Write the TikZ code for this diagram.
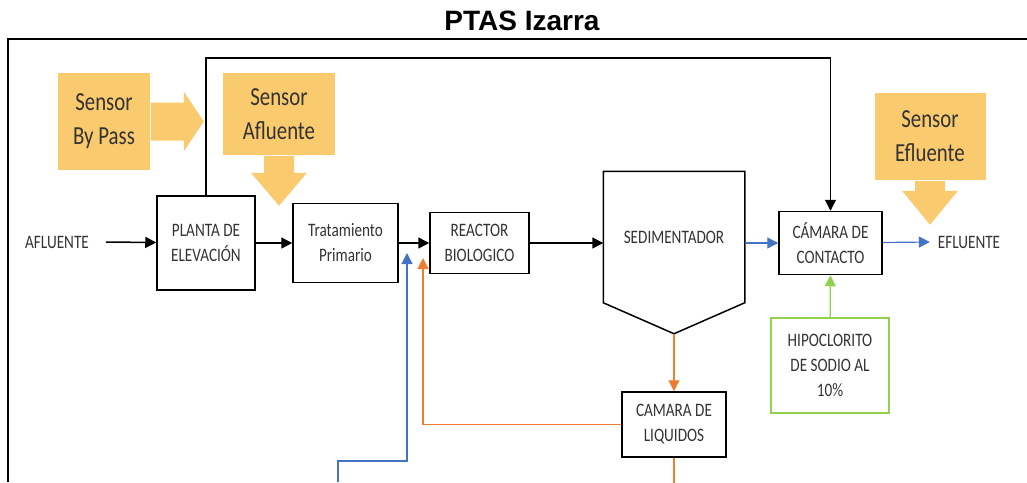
\documentclass[tikz,border=0pt]{standalone}
\usepackage{fontspec}
\setmainfont{Carlito}[FakeStretch=0.8]
\newfontfamily\titlefont{Liberation Sans}
\usetikzlibrary{arrows.meta, calc}

\definecolor{sensorfill}{RGB}{250,202,110}
\definecolor{flowblue}{RGB}{68,114,196}
\definecolor{floworange}{RGB}{237,125,49}
\definecolor{flowgreen}{RGB}{146,208,80}

\begin{document}
\begin{tikzpicture}[x=1pt, y=-1pt, line width=1.5pt, >={Triangle[length=11pt,width=11pt]},
	box/.style={draw, align=center, inner sep=0pt, font=\fontsize{19}{25}\selectfont, text=black!80},
	sensor/.style={fill=sensorfill, align=center, inner sep=0pt, font=\fontsize{26}{34}\selectfont, text=black!80},
	flowtext/.style={font=\fontsize{19}{25}\selectfont, text=black!80},
	colorflow/.style={line width=1.2pt}]
	\useasboundingbox (0,0) rectangle (1027,482);

	\node[font=\titlefont\fontsize{28}{30}\selectfont\bfseries] (title) at (522,21) {PTAS Izarra};
	\draw[line width=2.5pt] (8,482) -- (8,39) -- (1027,39);

	\node[sensor, minimum width=92, minimum height=97]   (sbp) at (104,121.5) {Sensor\\By Pass};
	\node[sensor, minimum width=112, minimum height=82]  (saf) at (279,114)   {Sensor\\Afluente};
	\node[sensor, minimum width=111, minimum height=87]  (sef) at (930,136.5) {Sensor\\Efluente};
	\fill[sensorfill] (sbp.east) ++(0,-19) -- ++(33,0) -- ++(0,-11) -- ++(20,30) -- ++(-20,30) -- ++(0,-11) -- ++(-33,0) -- cycle;
	\fill[sensorfill] (saf.south) ++(-15,0) -- ++(0,17) -- ++(-13,0) -- ++(28,33) -- ++(28,-33) -- ++(-13,0) -- ++(0,-17) -- cycle;
	\fill[sensorfill] (sef.south) ++(-15,0) -- ++(0,10) -- ++(-13,0) -- ++(28,34) -- ++(28,-34) -- ++(-13,0) -- ++(0,-10) -- cycle;

	\node[flowtext] (afl) at (57,242) {AFLUENTE};
	\node[box, minimum width=98, minimum height=94]  (planta)  at (206,243)   {PLANTA DE\\ELEVACIÓN};
	\node[box, minimum width=105, minimum height=79] (trat)    at (345.5,243) {Tratamiento\\Primario};
	\node[box, minimum width=99, minimum height=61]  (reactor) at (479.5,243) {REACTOR\\BIOLOGICO};
	\node[box, draw=none, minimum width=140, minimum height=130] (sed) at (674,237) {SEDIMENTADOR};
	\node[box, minimum width=103, minimum height=63] (cam)     at (830.5,243) {CÁMARA DE\\CONTACTO};
	\node[flowtext] (efl) at (969,242) {EFLUENTE};
	\node[box, draw=flowgreen, colorflow, minimum width=118, minimum height=95] (hipo) at (830,365.5) {HIPOCLORITO\\DE SODIO AL\\10\%};
	\node[box, minimum width=104, minimum height=65] (liq)     at (674,424.5) {CAMARA DE\\LIQUIDOS};

	\coordinate (sedtip) at ($(sed.south)+(0,31)$);
	\draw (sed.south west) -- (sed.north west) -- (sed.north east) -- (sed.south east) -- (sedtip) -- cycle;

	\coordinate (bypass)   at (0,58);
	\coordinate (recin)    at (423,258);
	\coordinate (bluein)   at (338,482);
	\coordinate (bluebend) at (338,461);
	\coordinate (bluetip)  at (407,253);

	\draw[->] ([xshift=13]afl.east) -- (planta);
	\draw[->] (planta) -- (trat);
	\draw[->] (trat) -- (reactor);
	\draw[->] (reactor) -- (reactor -| sed.west);
	\draw[->] (planta.north) -- (planta.north |- bypass) -| (cam.north);
	\draw[->, flowblue, colorflow] (sed.east |- cam) -- (cam);
	\draw[->, flowblue, colorflow] (cam) -- ([xshift=-4]efl.west);
	\draw[->, flowgreen, colorflow] (hipo) -- (cam);
	\draw[->, floworange, colorflow] (sedtip) -- (liq);
	\draw[floworange, colorflow] (liq.south) -- ++(0,30);
	\draw[->, floworange, colorflow] (liq.west) -| (recin);
	\draw[->, flowblue, colorflow] (bluein) -- (bluebend) -| (bluetip);
\end{tikzpicture}
\end{document}
